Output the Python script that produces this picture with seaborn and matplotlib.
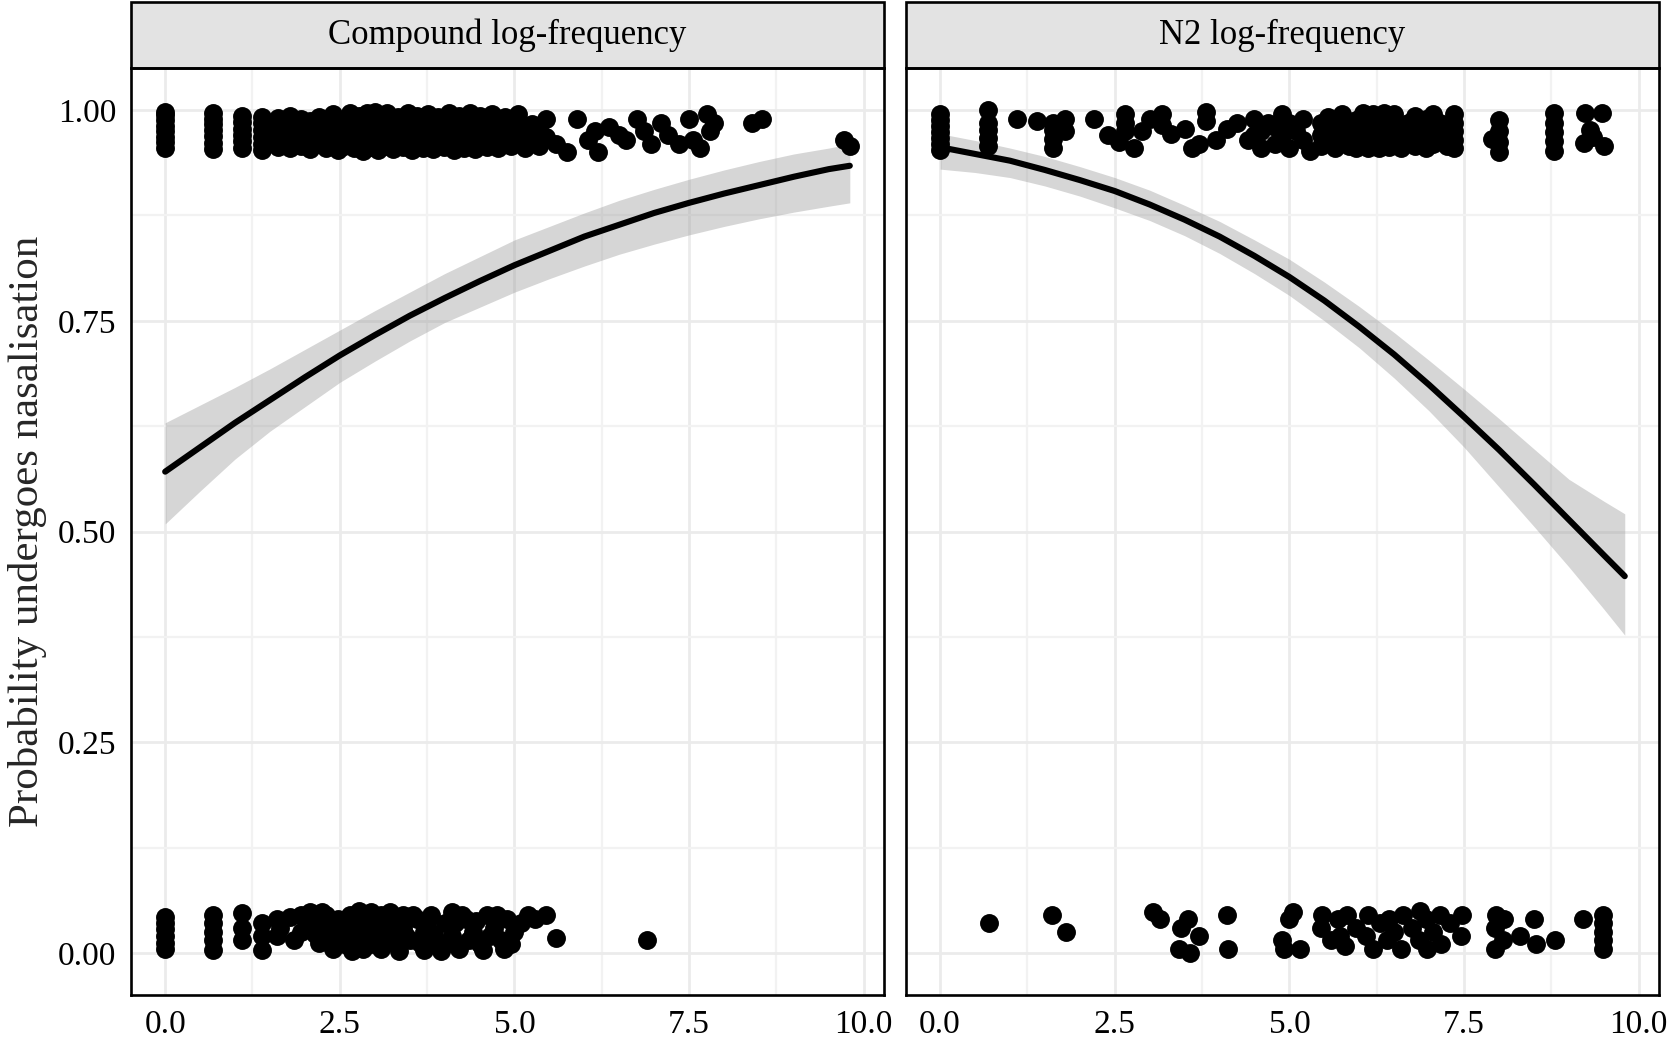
import pandas as pd
import matplotlib.pyplot as plt
import seaborn as sns
from matplotlib.patches import Rectangle
from matplotlib.ticker import MultipleLocator

# --- facet names ---
panels = ["Compound log-frequency", "N2 log-frequency"]

# --- jittered observations (log-frequency, jittered outcome) ---
cmp_yes = [
    (0.0, 0.955), (0.0, 0.962), (0.0, 0.968), (0.0, 0.975), (0.0, 0.981), (0.0, 0.988), (0.0, 0.994), (0.0, 0.998),
    (0.69, 0.954), (0.69, 0.961), (0.69, 0.969), (0.69, 0.976), (0.69, 0.983), (0.69, 0.990), (0.69, 0.997),
    (1.1, 0.955), (1.1, 0.963), (1.1, 0.970), (1.1, 0.978), (1.1, 0.986), (1.1, 0.993),
    (1.39, 0.953), (1.39, 0.960), (1.39, 0.968), (1.39, 0.977), (1.39, 0.985), (1.39, 0.992),
    (1.61, 0.956), (1.61, 0.965), (1.61, 0.974), (1.61, 0.983), (1.61, 0.991),
    (1.79, 0.955), (1.79, 0.970), (1.79, 0.985), (1.79, 0.993),
    (1.95, 0.958), (1.95, 0.967), (1.95, 0.980), (1.95, 0.990),
    (2.08, 0.954), (2.08, 0.972), (2.08, 0.987),
    (2.2, 0.960), (2.2, 0.975), (2.2, 0.992),
    (2.3, 0.955), (2.3, 0.968), (2.3, 0.983),
    (2.4, 0.962), (2.4, 0.978), (2.4, 0.995),
    (2.48, 0.953), (2.48, 0.970), (2.48, 0.986),
    (2.56, 0.958), (2.56, 0.975), (2.56, 0.990),
    (2.64, 0.965), (2.64, 0.981), (2.64, 0.997),
    (2.71, 0.955), (2.71, 0.972), (2.71, 0.988),
    (2.77, 0.960), (2.77, 0.977), (2.77, 0.993),
    (2.83, 0.952), (2.83, 0.968), (2.83, 0.984),
    (2.89, 0.962), (2.89, 0.979), (2.89, 0.996),
    (2.94, 0.956), (2.94, 0.973), (2.94, 0.990),
    (3.0, 0.960), (3.0, 0.976), (3.0, 0.998),
    (3.04, 0.953), (3.04, 0.969), (3.04, 0.985),
    (3.09, 0.963), (3.09, 0.980), (3.09, 0.994),
    (3.14, 0.957), (3.14, 0.972), (3.14, 0.988),
    (3.18, 0.961), (3.18, 0.978), (3.18, 0.997),
    (3.26, 0.954), (3.26, 0.970), (3.26, 0.986),
    (3.33, 0.960), (3.33, 0.975), (3.33, 0.992),
    (3.4, 0.956), (3.4, 0.971), (3.4, 0.988),
    (3.47, 0.962), (3.47, 0.980), (3.47, 0.996),
    (3.53, 0.953), (3.53, 0.967), (3.53, 0.984),
    (3.61, 0.958), (3.61, 0.975), (3.61, 0.993),
    (3.69, 0.955), (3.69, 0.970), (3.69, 0.989),
    (3.76, 0.962), (3.76, 0.980), (3.76, 0.995),
    (3.83, 0.954), (3.83, 0.968), (3.83, 0.985),
    (3.91, 0.959), (3.91, 0.976), (3.91, 0.992),
    (3.99, 0.956), (3.99, 0.972), (3.99, 0.990),
    (4.06, 0.961), (4.06, 0.979), (4.06, 0.996),
    (4.13, 0.953), (4.13, 0.968), (4.13, 0.986),
    (4.2, 0.958), (4.2, 0.975), (4.2, 0.993),
    (4.28, 0.955), (4.28, 0.970), (4.28, 0.988),
    (4.36, 0.962), (4.36, 0.979), (4.36, 0.997),
    (4.43, 0.954), (4.43, 0.969), (4.43, 0.985),
    (4.51, 0.960), (4.51, 0.976), (4.51, 0.993),
    (4.6, 0.956), (4.6, 0.972), (4.6, 0.990),
    (4.68, 0.962), (4.68, 0.980), (4.68, 0.995),
    (4.77, 0.955), (4.77, 0.970), (4.77, 0.987),
    (4.86, 0.960), (4.86, 0.977), (4.86, 0.992),
    (4.95, 0.957), (4.95, 0.973),
    (5.05, 0.963), (5.05, 0.982), (5.05, 0.995),
    (5.15, 0.955), (5.15, 0.970),
    (5.25, 0.965), (5.25, 0.984),
    (5.35, 0.958), (5.35, 0.976),
    (5.45, 0.968), (5.45, 0.990),
    (5.6, 0.960), (5.75, 0.950), (5.9, 0.990), (6.05, 0.965), (6.15, 0.975),
    (6.2, 0.950), (6.35, 0.980), (6.5, 0.970), (6.6, 0.965), (6.75, 0.990),
    (6.85, 0.975), (6.95, 0.960), (7.1, 0.985), (7.2, 0.970), (7.35, 0.960),
    (7.5, 0.990), (7.55, 0.965), (7.65, 0.955), (7.75, 0.995), (7.8, 0.975),
    (7.85, 0.985), (8.4, 0.985), (8.55, 0.990), (9.72, 0.965), (9.8, 0.957),
]

cmp_no = [
    (0.0, 0.005), (0.0, 0.012), (0.0, 0.020), (0.0, 0.028), (0.0, 0.035), (0.0, 0.043),
    (0.69, 0.003), (0.69, 0.015), (0.69, 0.025), (0.69, 0.035), (0.69, 0.045),
    (1.1, 0.015), (1.1, 0.030), (1.1, 0.047),
    (1.39, 0.004), (1.39, 0.020), (1.39, 0.035),
    (1.6, 0.040), (1.6, 0.020), (1.79, 0.042), (1.95, 0.045), (1.95, 0.025),
    (2.08, 0.048), (2.08, 0.030), (2.2, 0.012), (2.2, 0.035), (2.3, 0.045), (2.3, 0.020),
    (2.4, 0.005), (2.4, 0.030), (2.48, 0.040), (2.56, 0.010), (2.56, 0.025), (2.64, 0.045),
    (2.71, 0.015), (2.71, 0.030), (2.77, 0.050), (2.83, 0.005), (2.83, 0.040), (2.89, 0.025),
    (2.94, 0.048), (2.94, 0.010), (3.0, 0.030), (3.09, 0.045), (3.09, 0.005), (3.18, 0.020),
    (3.26, 0.040), (3.3, 0.010), (3.4, 0.030), (3.4, 0.045), (3.5, 0.015), (3.6, 0.040),
    (3.7, 0.003), (3.7, 0.025), (3.8, 0.045), (3.9, 0.012), (4.0, 0.035), (4.1, 0.020),
    (4.1, 0.048), (4.2, 0.005), (4.3, 0.040), (4.4, 0.025), (4.5, 0.010), (4.6, 0.045),
    (4.7, 0.030), (4.8, 0.015), (4.9, 0.040), (5.0, 0.025), (5.3, 0.040), (5.45, 0.045),
    (5.6, 0.018), (6.9, 0.015),
    (1.65, 0.030), (1.85, 0.015), (2.0, 0.040), (2.15, 0.022), (2.25, 0.048), (2.45, 0.018),
    (2.6, 0.035), (2.68, 0.002), (2.8, 0.022), (2.9, 0.045), (3.02, 0.012), (3.12, 0.035),
    (3.22, 0.048), (3.28, 0.025), (3.35, 0.002), (3.45, 0.020), (3.55, 0.045), (3.65, 0.012),
    (3.75, 0.035), (3.85, 0.022), (3.95, 0.002), (4.05, 0.012), (4.15, 0.035), (4.25, 0.045),
    (4.35, 0.015), (4.45, 0.038), (4.55, 0.003), (4.65, 0.020), (4.75, 0.045), (4.85, 0.005),
    (4.95, 0.010), (5.1, 0.035), (5.2, 0.045),
]

n2_yes = [
    (0.0, 0.953), (0.0, 0.960), (0.0, 0.967), (0.0, 0.974), (0.0, 0.981), (0.0, 0.988), (0.0, 0.995),
    (0.69, 0.958), (0.69, 0.967), (0.69, 0.976), (0.69, 0.985), (0.69, 1.000),
    (1.1, 0.990), (1.39, 0.987),
    (1.61, 0.955), (1.61, 0.966), (1.61, 0.977), (1.61, 0.985),
    (1.79, 0.975), (1.79, 0.990), (2.2, 0.990), (2.4, 0.970), (2.56, 0.962),
    (2.64, 0.975), (2.64, 0.985), (2.64, 0.995), (2.77, 0.955), (2.89, 0.975), (3.0, 0.990),
    (3.18, 0.982), (3.18, 0.995), (3.3, 0.972), (3.5, 0.978), (3.6, 0.955), (3.7, 0.960),
    (3.8, 0.987), (3.8, 0.998), (3.95, 0.965), (4.1, 0.978), (4.25, 0.985), (4.4, 0.965),
    (4.5, 0.970), (4.5, 0.990), (4.6, 0.955), (4.6, 0.975), (4.7, 0.985), (4.8, 0.960),
    (4.8, 0.980), (4.9, 0.995), (4.9, 0.970), (5.0, 0.955), (5.0, 0.985), (5.1, 0.975),
    (5.2, 0.965), (5.2, 0.990), (5.3, 0.952),
    (5.45, 0.970), (5.45, 0.985), (5.45, 0.958), (5.55, 0.978), (5.55, 0.992),
    (5.65, 0.955), (5.65, 0.968), (5.75, 0.965), (5.75, 0.983), (5.75, 0.995),
    (5.85, 0.958), (5.85, 0.975), (5.95, 0.955), (5.95, 0.970), (5.95, 0.988),
    (6.05, 0.962), (6.05, 0.980), (6.05, 0.997), (6.12, 0.955), (6.12, 0.970), (6.12, 0.990),
    (6.2, 0.960), (6.2, 0.977), (6.2, 0.995), (6.28, 0.955), (6.28, 0.972), (6.28, 0.988),
    (6.35, 0.962), (6.35, 0.980), (6.35, 0.997), (6.42, 0.956), (6.42, 0.970), (6.42, 0.990),
    (6.5, 0.960), (6.5, 0.978), (6.5, 0.995), (6.6, 0.955), (6.6, 0.972),
    (6.7, 0.965), (6.7, 0.985), (6.8, 0.958), (6.8, 0.975), (6.8, 0.993),
    (6.88, 0.962), (6.88, 0.980), (6.95, 0.955), (6.95, 0.970), (6.95, 0.990),
    (7.05, 0.960), (7.05, 0.978), (7.05, 0.995), (7.15, 0.965), (7.15, 0.985),
    (7.25, 0.958), (7.25, 0.975),
    (7.35, 0.955), (7.35, 0.965), (7.35, 0.975), (7.35, 0.985), (7.35, 0.995),
    (7.9, 0.966), (8.0, 0.950), (8.0, 0.962), (8.0, 0.975), (8.0, 0.988),
    (8.78, 0.952), (8.78, 0.963), (8.78, 0.974), (8.78, 0.985), (8.78, 0.996),
    (9.23, 0.996), (9.47, 0.996), (9.3, 0.976), (9.21, 0.961), (9.5, 0.957), (9.35, 0.968),
]

n2_no = [
    (0.7, 0.035), (1.6, 0.045), (1.8, 0.025), (3.05, 0.048), (3.15, 0.040), (3.42, 0.005),
    (3.45, 0.030), (3.55, 0.040), (3.57, 0.000), (3.7, 0.020), (4.1, 0.045), (4.12, 0.005),
    (4.9, 0.015), (4.92, 0.005), (5.0, 0.040), (5.05, 0.048), (5.15, 0.005), (5.45, 0.030),
    (5.47, 0.045), (5.6, 0.015), (5.7, 0.040), (5.72, 0.020), (5.8, 0.008), (5.83, 0.045),
    (5.95, 0.030), (6.1, 0.020), (6.12, 0.045), (6.2, 0.005), (6.3, 0.035), (6.4, 0.015),
    (6.42, 0.040), (6.5, 0.025), (6.6, 0.005), (6.62, 0.045), (6.75, 0.030), (6.85, 0.015),
    (6.87, 0.050), (6.95, 0.040), (6.97, 0.005), (7.05, 0.025), (7.15, 0.045), (7.17, 0.010),
    (7.3, 0.035), (7.45, 0.020), (7.47, 0.045), (7.94, 0.005), (7.94, 0.030), (7.96, 0.045),
    (8.05, 0.015), (8.07, 0.040), (8.3, 0.020), (8.5, 0.040), (8.53, 0.010), (8.8, 0.015),
    (9.2, 0.040), (9.49, 0.005), (9.49, 0.015), (9.49, 0.025), (9.49, 0.035), (9.49, 0.045),
]

# --- fitted logistic curves ---
fit_x = [0.0, 0.5, 1.0, 1.5, 2.0, 2.5, 3.0, 3.5, 4.0, 4.5, 5.0,
         5.5, 6.0, 6.5, 7.0, 7.5, 8.0, 8.5, 9.0, 9.5, 9.8]
cmp_fit = [0.571, 0.600, 0.629, 0.656, 0.683, 0.709, 0.733, 0.756, 0.777, 0.797, 0.816,
           0.833, 0.850, 0.864, 0.878, 0.890, 0.901, 0.911, 0.921, 0.930, 0.934]
cmp_lo = [0.509, 0.548, 0.586, 0.619, 0.648, 0.677, 0.702, 0.726, 0.748, 0.766, 0.784,
          0.800, 0.815, 0.829, 0.841, 0.852, 0.862, 0.871, 0.879, 0.886, 0.890]
cmp_hi = [0.629, 0.650, 0.671, 0.693, 0.716, 0.739, 0.762, 0.784, 0.806, 0.826, 0.846,
          0.862, 0.878, 0.893, 0.906, 0.918, 0.929, 0.939, 0.948, 0.955, 0.960]
n2_fit = [0.956, 0.948, 0.940, 0.929, 0.917, 0.904, 0.888, 0.870, 0.850, 0.827, 0.802,
          0.774, 0.743, 0.710, 0.674, 0.636, 0.597, 0.556, 0.514, 0.472, 0.447]
n2_lo = [0.930, 0.926, 0.920, 0.910, 0.898, 0.884, 0.869, 0.851, 0.830, 0.806, 0.780,
         0.750, 0.718, 0.682, 0.643, 0.600, 0.553, 0.506, 0.458, 0.408, 0.377]
n2_hi = [0.972, 0.964, 0.955, 0.945, 0.933, 0.920, 0.905, 0.887, 0.868, 0.846, 0.823,
         0.796, 0.767, 0.736, 0.703, 0.669, 0.634, 0.598, 0.562, 0.536, 0.521]

# --- tidy tables ---
rows = []
for panel, yes, no in [(panels[0], cmp_yes, cmp_no), (panels[1], n2_yes, n2_no)]:
    for x, y in yes + no:
        rows.append({"panel": panel, "freq": x, "prob": y})
pts = pd.DataFrame(rows)

fits = {
    panels[0]: pd.DataFrame({"freq": fit_x, "fit": cmp_fit, "lo": cmp_lo, "hi": cmp_hi}),
    panels[1]: pd.DataFrame({"freq": fit_x, "fit": n2_fit, "lo": n2_lo, "hi": n2_hi}),
}

x_ticks = [0, 2.5, 5, 7.5, 10]
x_labels = ["0.0", "2.5", "5.0", "7.5", "10.0"]
y_ticks = [0, 0.25, 0.5, 0.75, 1.0]
y_labels = ["0.00", "0.25", "0.50", "0.75", "1.00"]

# --- style ---
sns.set_theme(style="white")
plt.rcParams["font.family"] = ["Liberation Serif", "DejaVu Serif"]

g = sns.FacetGrid(pts, col="panel", col_order=panels, sharex=True, sharey=True,
                  height=5, aspect=0.8, despine=False)
g.figure.set_size_inches(16.68, 10.38)

strip_h = 66 / 927
for ax, panel in zip(g.axes.flat, panels):
    f = fits[panel]
    ax.fill_between(f["freq"], f["lo"], f["hi"], color="#999999", alpha=0.4,
                    linewidth=0, zorder=2)
    sns.lineplot(data=f, x="freq", y="fit", ax=ax, color="black", linewidth=4.4,
                 zorder=3)
    sns.scatterplot(data=pts[pts["panel"] == panel], x="freq", y="prob", ax=ax,
                    color="black", s=185, linewidth=0, zorder=4)

    ax.set_xlim(-0.49, 10.29)
    ax.set_ylim(-0.05, 1.05)
    ax.set_xticks(x_ticks)
    ax.set_xticklabels(x_labels)
    ax.xaxis.set_minor_locator(MultipleLocator(1.25))
    ax.yaxis.set_minor_locator(MultipleLocator(0.125))
    ax.grid(which="major", color="#EBEBEB", linewidth=2.0, zorder=0)
    ax.grid(which="minor", color="#F2F2F2", linewidth=1.6, zorder=0)
    ax.set_axisbelow(True)
    for s in ax.spines.values():
        s.set_color("black")
        s.set_linewidth(1.9)
    ax.tick_params(which="major", direction="out", length=6.5, width=1.8,
                   color="black", labelsize=24, labelcolor="black", pad=4)
    ax.tick_params(which="minor", length=0)
    ax.set_title("")
    ax.set_xlabel("")
    ax.set_ylabel("")

    # strip on top of each facet
    ax.add_patch(Rectangle((0, 1), 1, strip_h, transform=ax.transAxes, clip_on=False,
                           facecolor="#E3E3E3", edgecolor="black", linewidth=1.9))
    ax.text(0.5, 1 + strip_h / 2, panel, transform=ax.transAxes, ha="center",
            va="center", fontsize=25, color="black")

left, right = g.axes.flat
left.set_yticks(y_ticks)
left.set_yticklabels(y_labels)
right.tick_params(axis="y", which="both", left=False, labelleft=False)
left.set_ylabel("Probability undergoes nasalisation", fontsize=31, labelpad=8)

g.figure.subplots_adjust(left=0.0785, right=0.9946, bottom=0.0414, top=0.9345,
                         wspace=0.029)
g.figure.savefig("out.png", dpi=100)
